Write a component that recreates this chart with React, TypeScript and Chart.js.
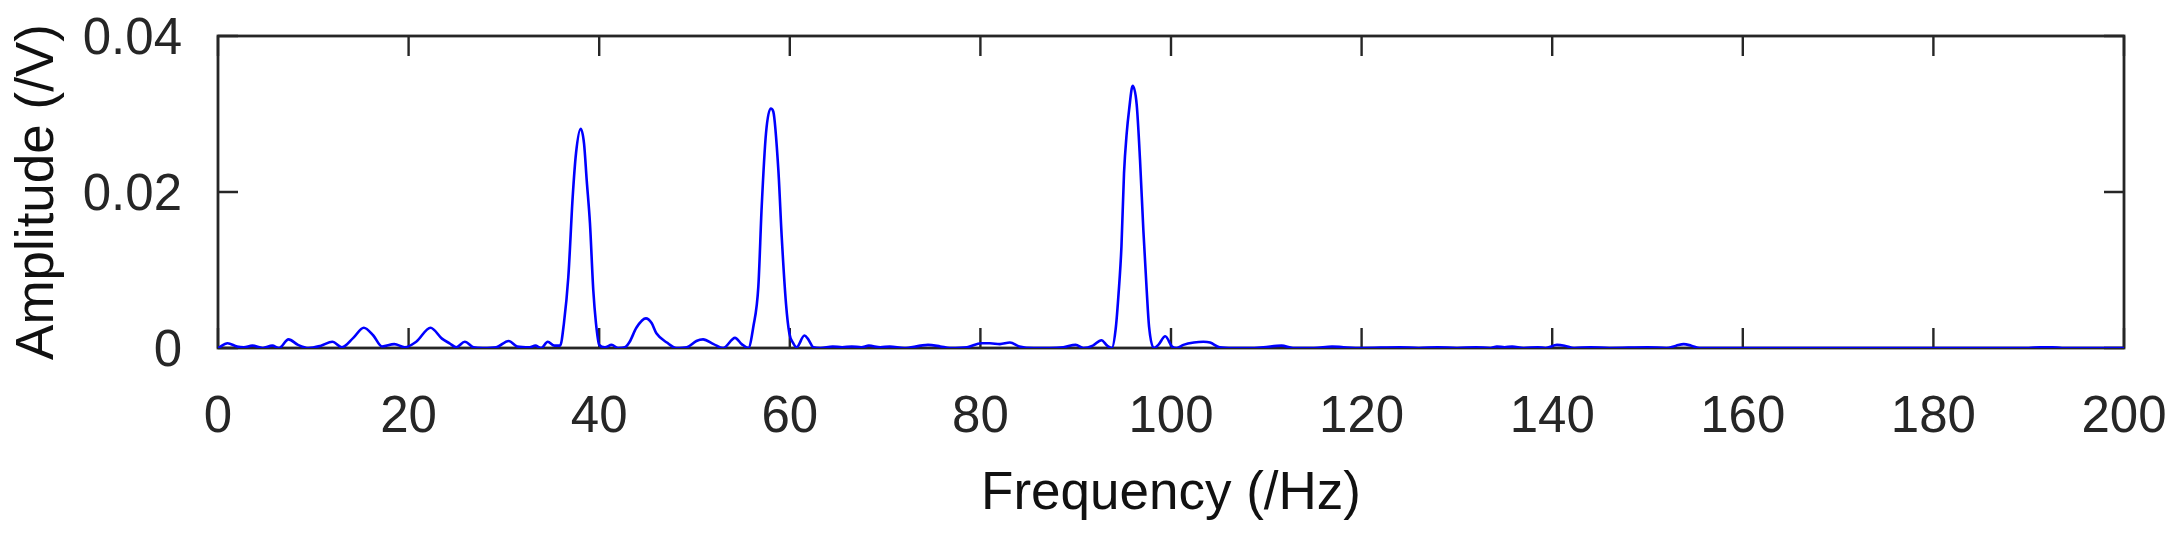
import { useEffect, useRef } from "react";
import { Chart, registerables } from "chart.js";

Chart.register(...registerables);

// spectrum (Hz / V)
const freqs = [
  0, 1.0, 2.0, 2.7, 3.6, 4.7, 5.7, 6.4, 7.4, 8.4, 9.5, 10.8, 12.0, 13.0, 14.2,
  15.3, 16.3, 17.2, 18.5, 19.6, 20.8, 22.3, 23.5, 24.3, 25.0, 25.9, 26.8, 27.8,
  29.2, 30.5, 31.4, 32.7, 33.3, 33.9, 34.6, 35.3, 35.9, 36.3, 36.76, 37.22,
  37.57, 38.06, 38.41, 38.69, 39.03, 39.38, 39.66, 40.0, 40.6, 41.3, 42.0, 42.7,
  43.2, 43.9, 44.9, 45.5, 46.0, 47.1, 48.1, 49.2, 50.2, 50.9, 52.0, 53.0, 54.25,
  54.95, 55.65, 56.17, 56.7, 57.05, 57.5, 57.99, 58.27, 58.8, 59.15, 59.6,
  59.95, 60.37, 60.72, 61.53, 61.94, 62.47, 63.2, 64.5, 65.5, 66.5, 67.5, 68.3,
  69.5, 70.5, 72.0, 73.7, 74.5, 75.8, 76.8, 78.6, 80.1, 81.0, 82.05, 83.1, 84.1,
  85.6, 87.3, 88.7, 90.0, 90.8, 91.8, 92.7, 93.3, 93.8, 94.2, 94.5, 94.8, 95.07,
  95.35, 95.6, 95.98, 96.4, 96.75, 97.1, 97.45, 97.7, 98.2, 98.67, 99.4, 100.1,
  100.6, 101.3, 102.4, 103.4, 104.1, 105.1, 106.5, 108.3, 109.7, 111.6, 112.8,
  115.0, 116.9, 118.1, 120.0, 124.0, 126.0, 128.0, 130.0, 132.0, 133.5, 134.2,
  135.0, 135.8, 137.0, 138.5, 139.3, 140.5, 141.3, 142.3, 144.0, 146.0, 150.0,
  152.0, 153.0, 153.8, 154.6, 155.5, 170.0, 190.0, 191.2, 192.5, 193.5, 200.0,
];
const amps = [
  0, 0.0006, 0.0002, 0.0001, 0.0003, 0, 0.0003, 0, 0.0011, 0.0004, 0, 0.0003,
  0.0008, 0.0001, 0.0013, 0.0026, 0.0016, 0.0002, 0.0005, 0.0001, 0.0008,
  0.0026, 0.0012, 0.0006, 0.0001, 0.0008, 0.0001, 0, 0.0001, 0.0009, 0.0002,
  0.0001, 0.0003, 0, 0.0008, 0.0003, 0.0003, 0.0032, 0.0091, 0.0194, 0.025,
  0.0281, 0.0262, 0.0215, 0.016, 0.0074, 0.0032, 0.0004, 0.0001, 0.0004, 0,
  0.0001, 0.0008, 0.0026, 0.0038, 0.0032, 0.0019, 0.0007, 0, 0.0001, 0.0009,
  0.0011, 0.0005, 0, 0.0013, 0.0005, 0, 0.0027, 0.0079, 0.0181, 0.0275, 0.0307,
  0.0303, 0.0228, 0.0143, 0.0057, 0.0019, 0.0006, 0.0001, 0.0016, 0.0011,
  0.0001, 0, 0.0002, 0.0001, 0.0002, 0.0001, 0.0003, 0.0001, 0.0002, 0, 0.0003,
  0.0004, 0.0002, 0, 0.0001, 0.0006, 0.0006, 0.0005, 0.0007, 0.0002, 0, 0,
  0.0001, 0.0004, 0, 0.0003, 0.001, 0.0003, 0, 0.0025, 0.007, 0.013, 0.0224,
  0.0275, 0.0305, 0.0336, 0.0312, 0.0241, 0.0151, 0.0074, 0.0027, 0, 0.0004,
  0.0015, 0.0002, 0, 0.0004, 0.0007, 0.0008, 0.0007, 0.0001, 0, 0, 0.0001,
  0.0003, 0, 0, 0.0002, 0.0001, 0, 0.0001, 0, 0.0001, 0, 0.0001, 0, 0.0002,
  0.0001, 0.0002, 0, 0.0001, 0, 0.0004, 0.0003, 0, 0.0001, 0, 0.0001, 0, 0.0003,
  0.0005, 0.0003, 0, 0, 0, 0.0001, 0.0001, 0, 0,
];

const xTickValues = [0, 20, 40, 60, 80, 100, 120, 140, 160, 180, 200];
const yTickValues = [0, 0.02, 0.04];

const FONT = "'Liberation Sans', Arial, Helvetica, sans-serif";
const AXIS_COLOR = "#262626";
const TICK_LEN = 20;

// MATLAB-like box with inward ticks on all four sides
const boxPlugin = {
  id: "matlabBox",
  beforeDatasetsDraw(chart: Chart) {
    const { ctx, chartArea: a } = chart;
    const xs = chart.scales.x;
    const ys = chart.scales.y;
    ctx.save();
    ctx.strokeStyle = AXIS_COLOR;
    ctx.lineWidth = 2.4;
    ctx.beginPath();
    xTickValues.forEach((v) => {
      const px = xs.getPixelForValue(v);
      ctx.moveTo(px, a.bottom);
      ctx.lineTo(px, a.bottom - TICK_LEN);
      ctx.moveTo(px, a.top);
      ctx.lineTo(px, a.top + TICK_LEN);
    });
    yTickValues.forEach((v) => {
      const py = ys.getPixelForValue(v);
      ctx.moveTo(a.left, py);
      ctx.lineTo(a.left + TICK_LEN, py);
      ctx.moveTo(a.right, py);
      ctx.lineTo(a.right - TICK_LEN, py);
    });
    ctx.stroke();
    ctx.lineWidth = 2.8;
    ctx.strokeRect(a.left, a.top, a.right - a.left, a.bottom - a.top);
    ctx.restore();
  },
};

export default function App() {
  const ref = useRef<HTMLCanvasElement>(null);

  useEffect(() => {
    if (!ref.current) return;
    const chart = new Chart(ref.current, {
      type: "line",
      data: {
        datasets: [
          {
            data: freqs.map((f, i) => ({ x: f, y: amps[i] })),
            borderColor: "#0000ff",
            borderWidth: 2.6,
            pointRadius: 0,
            cubicInterpolationMode: "monotone",
            fill: false,
          },
        ],
      },
      options: {
        responsive: true,
        maintainAspectRatio: false,
        animation: false,
        layout: { padding: { top: 36, right: 58, left: 0, bottom: 0 } },
        plugins: { legend: { display: false }, tooltip: { enabled: false } },
        scales: {
          x: {
            type: "linear",
            min: 0,
            max: 200,
            afterBuildTicks: (s: any) => {
              s.ticks = xTickValues.map((v) => ({ value: v }));
            },
            afterFit: (s: any) => {
              s.height = 187;
              s.paddingLeft = 0;
              s.paddingRight = 0;
            },
            grid: { display: false },
            border: { display: false },
            ticks: {
              color: AXIS_COLOR,
              font: { family: FONT, size: 51, lineHeight: 1 },
              padding: 36,
              maxRotation: 0,
              autoSkip: false,
            },
            title: {
              display: true,
              text: "Frequency (/Hz)",
              color: "#111111",
              font: { family: FONT, size: 53, lineHeight: 1 },
              padding: { top: 0, bottom: 14 },
            },
          },
          y: {
            type: "linear",
            min: 0,
            max: 0.04,
            afterBuildTicks: (s: any) => {
              s.ticks = yTickValues.map((v) => ({ value: v }));
            },
            afterFit: (s: any) => {
              s.width = 218;
              s.paddingTop = 0;
              s.paddingBottom = 0;
            },
            grid: { display: false },
            border: { display: false },
            ticks: {
              color: AXIS_COLOR,
              font: { family: FONT, size: 51, lineHeight: 1 },
              padding: 28,
              labelOffset: 4,
              callback: (v: number | string) =>
                Number(v) === 0 ? "0" : Number(v).toFixed(2),
            },
            title: {
              display: true,
              text: "Amplitude (/V)",
              color: "#111111",
              font: { family: FONT, size: 53, lineHeight: 1 },
              padding: { top: 12, bottom: 0 },
            },
          },
        },
      },
      plugins: [boxPlugin],
    });
    return () => chart.destroy();
  }, []);

  return (
    <div
      style={{
        position: "absolute",
        left: 0,
        top: 0,
        width: 2182,
        height: 535,
        background: "#ffffff",
      }}
    >
      <canvas ref={ref} />
    </div>
  );
}
